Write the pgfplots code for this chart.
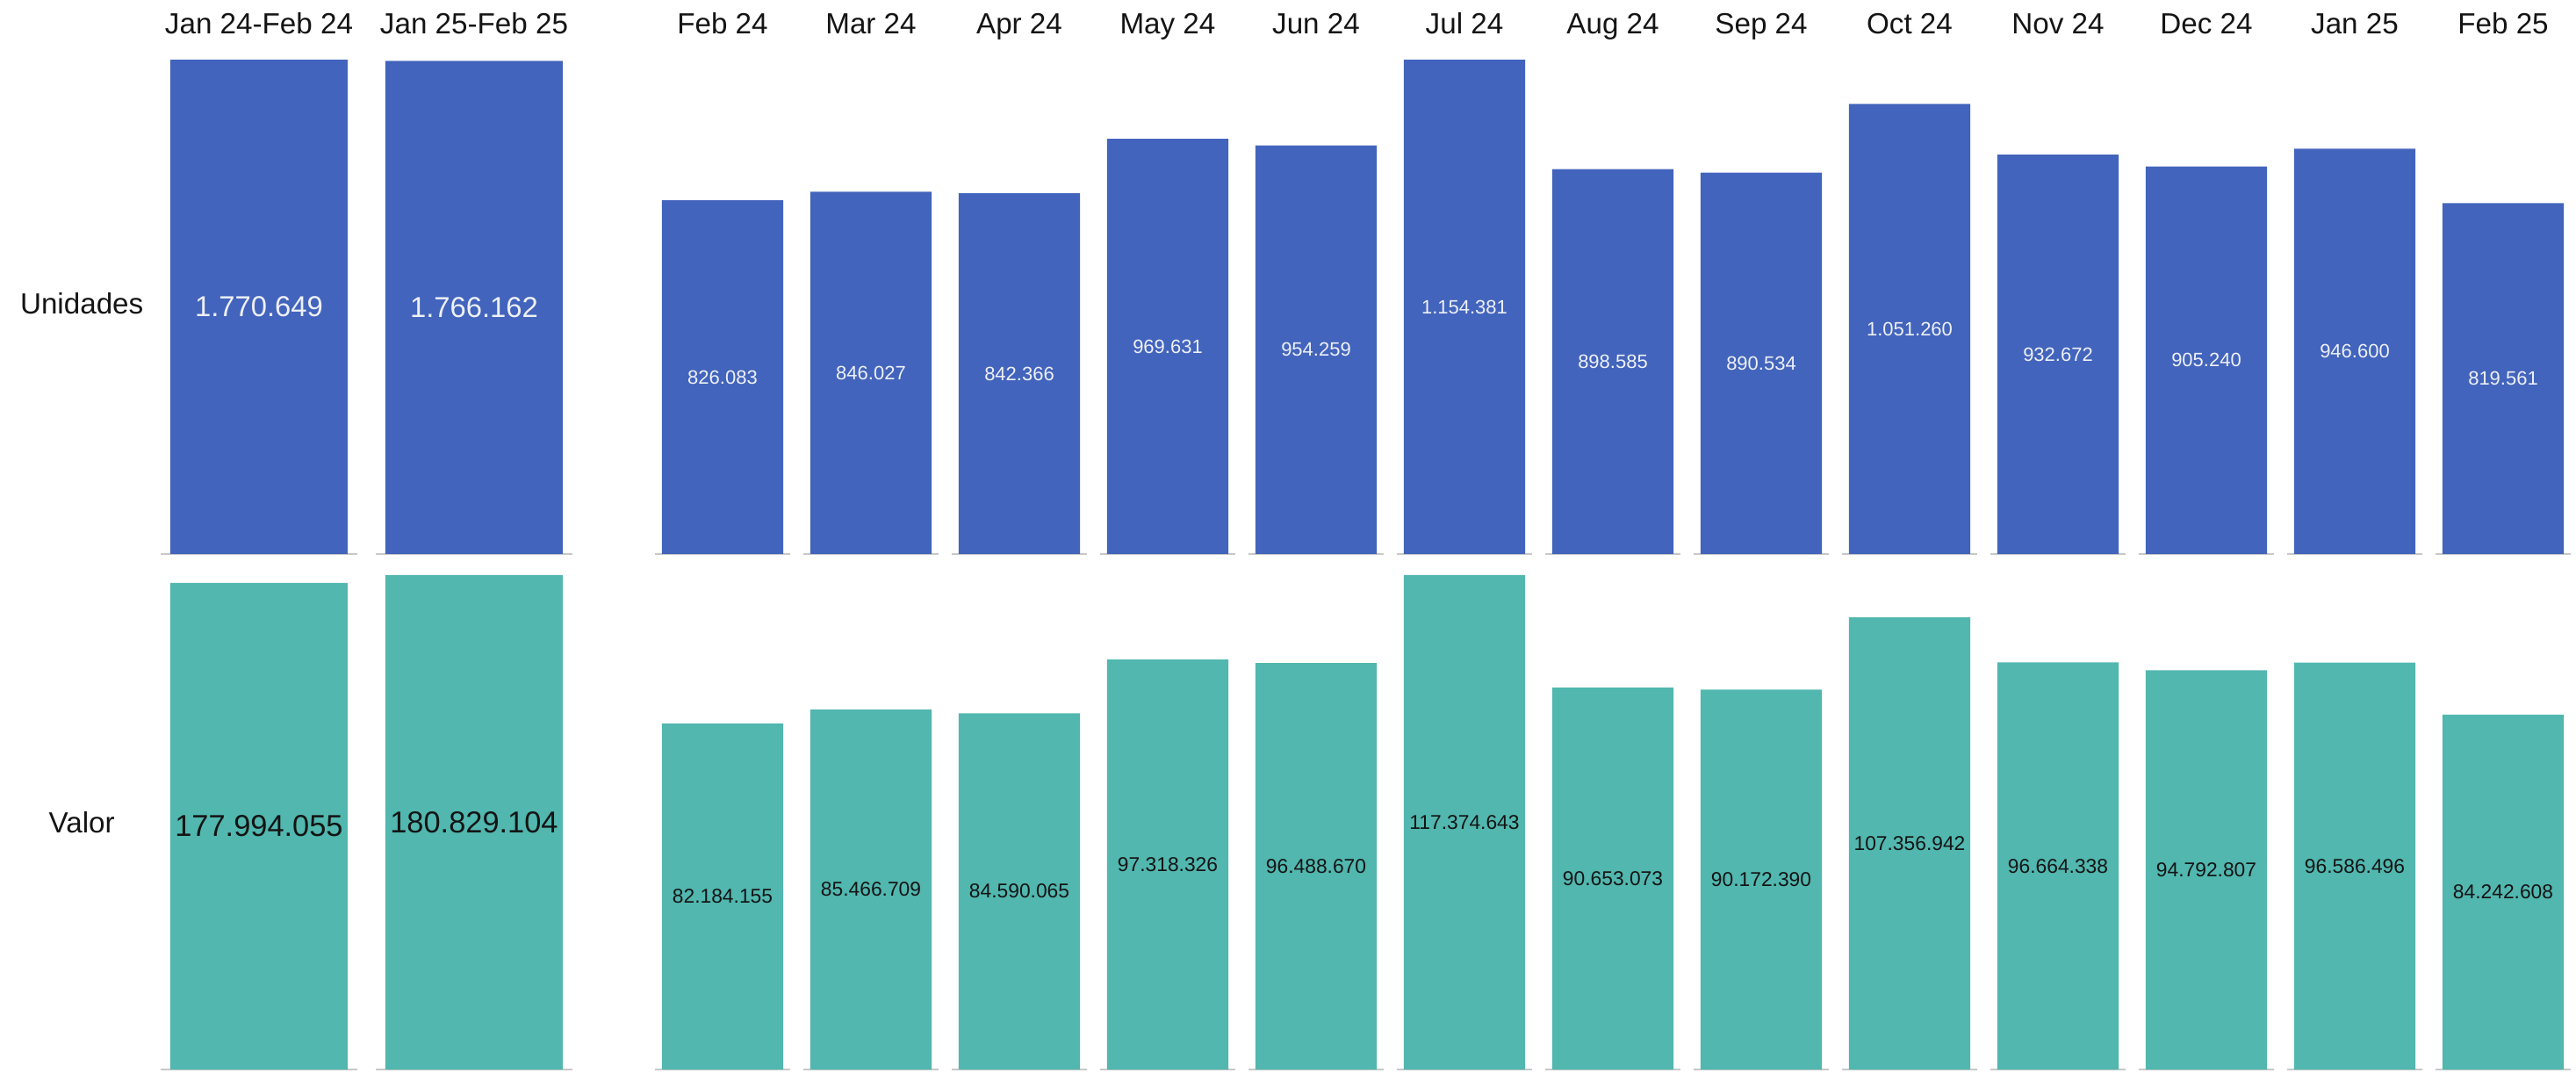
\documentclass[border=0pt]{standalone}
\usepackage{fontspec}
\setmainfont{Liberation Sans}
\usepackage{pgfplots}
\usepackage{pgfplotstable}
\pgfplotsset{compat=1.18}
\definecolor{ublue}{RGB}{66,100,188}
\definecolor{vteal}{RGB}{81,183,175}
\definecolor{baseg}{RGB}{200,200,200}
\definecolor{wtxt}{RGB}{238,240,246}
\definecolor{btxt}{RGB}{20,20,20}

\pgfplotstableread{
x y lbl
0 1770649 1.770.649
1 1766162 1.766.162
}\unitot
\pgfplotstableread{
x y lbl
0 177994055 177.994.055
1 180829104 180.829.104
}\valtot
\pgfplotstableread{
x y lbl
0 826083 826.083
1 846027 846.027
2 842366 842.366
3 969631 969.631
4 954259 954.259
5 1154381 1.154.381
6 898585 898.585
7 890534 890.534
8 1051260 1.051.260
9 932672 932.672
10 905240 905.240
11 946600 946.600
12 819561 819.561
}\unimon
\pgfplotstableread{
x y lbl
0 82184155 82.184.155
1 85466709 85.466.709
2 84590065 84.590.065
3 97318326 97.318.326
4 96488670 96.488.670
5 117374643 117.374.643
6 90653073 90.653.073
7 90172390 90.172.390
8 107356942 107.356.942
9 96664338 96.664.338
10 94792807 94.792.807
11 96586496 96.586.496
12 84242608 84.242.608
}\valmon

\pgfplotsset{
  panel/.style={
    scale only axis, height=140.75pt, ymin=0,
    axis line style={draw=none}, tick style={draw=none},
    major tick length=0pt, ytick=\empty, clip=false,
    xticklabel pos=upper,
    xticklabel style={anchor=base, yshift=7.25pt, font=\fontsize{8.3}{10}\selectfont, text=btxt},
  },
  lblplot/.style={draw=none, mark=none, nodes near coords, point meta=explicit symbolic,
    every node near coord/.append style={anchor=center}},
}

\begin{document}
\begin{tikzpicture}
\path[use as bounding box] (0,0) rectangle (733.5pt,305.25pt);

% Left top: Unidades totals
\begin{axis}[panel, at={(43.125pt,147.5pt)}, anchor=south west,
  width=122.5pt, xmin=-0.5, xmax=1.5, ymax=1770649,
  xtick={0,1}, xticklabels={Jan 24-Feb 24, Jan 25-Feb 25}]
  \pgfplotsinvokeforeach{0,1}{\draw[baseg, line width=0.6pt] ([xshift=-2.75pt]axis cs:#1-0.412,0) -- ([xshift=2.75pt]axis cs:#1+0.412,0);}
  \addplot[ybar, bar width=0.8245, bar shift=0pt, fill=ublue, draw=none] table[x=x,y=y]{\unitot};
  \addplot[lblplot, nodes near coords style={font=\fontsize{8.2}{10}\selectfont, text=wtxt}] table[x=x, y expr=\thisrow{y}/2, meta=lbl]{\unitot};
\end{axis}

% Left bottom: Valor totals
\begin{axis}[panel, at={(43.125pt,0.75pt)}, anchor=south west,
  width=122.5pt, xmin=-0.5, xmax=1.5, ymax=180829104, xtick=\empty]
  \pgfplotsinvokeforeach{0,1}{\draw[baseg, line width=0.6pt] ([xshift=-2.75pt]axis cs:#1-0.412,0) -- ([xshift=2.75pt]axis cs:#1+0.412,0);}
  \addplot[ybar, bar width=0.8245, bar shift=0pt, fill=vteal, draw=none] table[x=x,y=y]{\valtot};
  \addplot[lblplot, nodes near coords style={font=\fontsize{8.6}{10}\selectfont, text=btxt}] table[x=x, y expr=\thisrow{y}/2, meta=lbl]{\valtot};
\end{axis}

% Right top: Unidades monthly
\begin{axis}[panel, at={(184.625pt,147.5pt)}, anchor=south west,
  width=549.25pt, xmin=-0.5, xmax=12.5, ymax=1154381,
  xtick={0,...,12}, xticklabels={Feb 24, Mar 24, Apr 24, May 24, Jun 24, Jul 24, Aug 24, Sep 24, Oct 24, Nov 24, Dec 24, Jan 25, Feb 25}]
  \pgfplotsinvokeforeach{0,...,12}{\draw[baseg, line width=0.6pt] ([xshift=-2pt]axis cs:#1-0.41,0) -- ([xshift=2pt]axis cs:#1+0.41,0);}
  \addplot[ybar, bar width=0.819, bar shift=0pt, fill=ublue, draw=none] table[x=x,y=y]{\unimon};
  \addplot[lblplot, nodes near coords style={font=\fontsize{5.5}{7}\selectfont, text=wtxt}] table[x=x, y expr=\thisrow{y}/2, meta=lbl]{\unimon};
\end{axis}

% Right bottom: Valor monthly
\begin{axis}[panel, at={(184.625pt,0.75pt)}, anchor=south west,
  width=549.25pt, xmin=-0.5, xmax=12.5, ymax=117374643, xtick=\empty]
  \pgfplotsinvokeforeach{0,...,12}{\draw[baseg, line width=0.6pt] ([xshift=-2pt]axis cs:#1-0.41,0) -- ([xshift=2pt]axis cs:#1+0.41,0);}
  \addplot[ybar, bar width=0.819, bar shift=0pt, fill=vteal, draw=none] table[x=x,y=y]{\valmon};
  \addplot[lblplot, nodes near coords style={font=\fontsize{5.7}{7}\selectfont, text=btxt}] table[x=x, y expr=\thisrow{y}/2, meta=lbl]{\valmon};
\end{axis}

% Row labels
\node[anchor=base, font=\fontsize{8.3}{10}\selectfont, text=btxt] at (23.3pt,215.8pt) {Unidades};
\node[anchor=base, font=\fontsize{8.3}{10}\selectfont, text=btxt] at (23.3pt,68pt) {Valor};
\end{tikzpicture}
\end{document}
